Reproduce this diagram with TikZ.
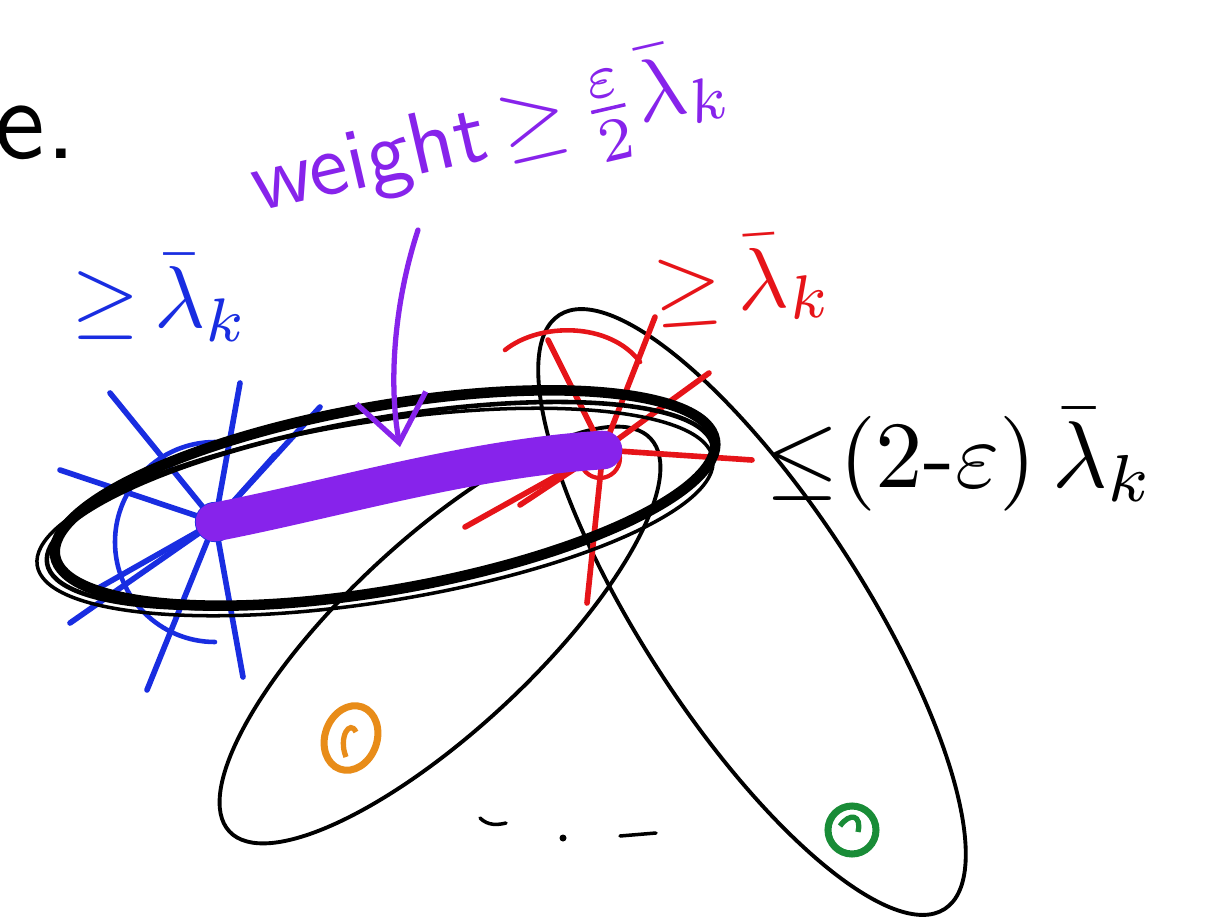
\documentclass[tikz,border=0pt]{standalone}
\usepackage{graphicx}
\usetikzlibrary{arrows.meta}
\definecolor{inkblue}{RGB}{25,45,225}
\definecolor{inkpurple}{RGB}{135,35,235}
\definecolor{inkred}{RGB}{230,20,25}
\definecolor{inkorange}{RGB}{232,140,25}
\definecolor{inkgreen}{RGB}{25,140,55}
\tikzset{
  thinset/.style={draw=black, line width=2.2pt},
  thickset/.style={draw=black, line width=6pt},
  bluepen/.style={draw=inkblue, line width=3.2pt, line cap=round},
  redpen/.style={draw=inkred, line width=3.2pt, line cap=round},
  purplepen/.style={draw=inkpurple, line width=3pt, line cap=round},
  lbl/.style={inner sep=0pt}
}
\begin{document}
\begin{tikzpicture}[x=0.02cm,y=-0.02cm]
\useasboundingbox (0,0) rectangle (1215,923);
\fill[white] (0,0) rectangle (1215,923);

% heading fragment
\node[lbl, anchor=base west] (e) at (-6,158) {\scalebox{6.5}{\sffamily e.}};

% named points
\coordinate (B) at (215,522);
\coordinate (R) at (603,450);
\coordinate (O) at (351,738);
\coordinate (G) at (852,830);

% sets (thin ellipses)
\draw[thinset, rotate around={43:(440,635)}] (440,635) ellipse [x radius=288, y radius=95];
\draw[thinset, rotate around={-57:(752,612)}] (752,612) ellipse [x radius=354, y radius=110];

% blue vertex rays
\foreach \p in {(110,393),(240,383),(320,407),(60,470),(70,623),(147,690),(243,677),(275,455),(95,590)}
  \draw[bluepen] (B) -- \p;
\draw[bluepen, line width=2.6pt] (215,442) arc[start angle=270, end angle=90, radius=100];
\draw[bluepen, line width=2.4pt] (B) circle [radius=18];

% red vertex rays
\foreach \p in {(548,340),(655,317),(709,373),(752,460),(465,527),(587,603),(520,505)}
  \draw[redpen] (R) -- \p;
\draw[redpen, line width=2.6pt] (505,350) .. controls (540,322) and (610,322) .. (640,362);
\draw[redpen, line width=2.4pt] (600,458) circle [radius=20];

% thick hyperedge
\draw[thinset, line width=2pt, rotate around={9:(375,512)}] (375,512) ellipse [x radius=342, y radius=90];
\draw[thinset, line width=2.6pt, rotate around={10:(380,505)}] (380,505) ellipse [x radius=338, y radius=86];
\draw[thickset, rotate around={10:(385,498)}] (385,498) ellipse [x radius=335, y radius=92];

% heavy purple edge
\draw[draw=inkpurple, line width=22pt, line cap=round] (B) .. controls (330,500) and (470,458) .. (R);

% purple arrow
\draw[purplepen, -{Straight Barb[length=26pt, width=40pt, line width=3pt]}]
  (418,230) .. controls (395,300) and (388,380) .. (400,447);

% labels
\node[lbl, text=inkpurple, rotate=13, anchor=base west] (wt) at (258,212)
  {\scalebox{5}{\sffamily weight\,${\geq}\,\frac{\varepsilon}{2}\bar{\lambda}_k$}};
\node[lbl, text=inkblue] (bl) at (160,298) {\scalebox{5}{${\geq}\,\bar{\lambda}_k$}};
\node[lbl, text=inkred, rotate=4] (rl) at (742,280) {\scalebox{5}{${\geq}\,\bar{\lambda}_k$}};
\node[lbl, anchor=west] (ub) at (765,460) {\scalebox{5.4}{${\leq}(2\mbox{-}\varepsilon)\,\bar{\lambda}_k$}};

% vertices in the other sets
\draw[draw=inkorange, line width=4pt, rotate around={-20:(O)}] (O) ellipse [x radius=26, y radius=33];
\draw[draw=inkorange, line width=3pt] (346,757) .. controls (338,737) and (350,719) .. (356,732);
\draw[draw=inkgreen, line width=4pt] (G) circle [radius=24];
\draw[draw=inkgreen, line width=3pt] (840,826) .. controls (850,812) and (862,815) .. (858,832);

% dots
\draw[black, line width=2pt, line cap=round] (480,818) .. controls (488,826) and (498,825) .. (506,823);
\fill[black] (563,838) circle [radius=3.5];
\draw[black, line width=2pt, line cap=round] (620,836) -- (656,833);
\end{tikzpicture}
\end{document}
